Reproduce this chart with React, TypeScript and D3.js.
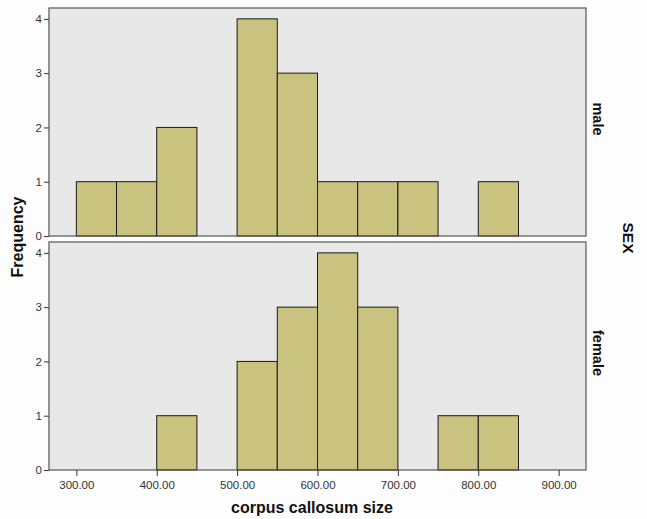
import { useEffect, useRef } from "react";
import * as d3 from "d3";

// bin lower edges (width 50) and counts per panel
const binStarts = [300, 350, 400, 450, 500, 550, 600, 650, 700, 750, 800, 850];
const maleCounts = [1, 1, 2, 0, 4, 3, 1, 1, 1, 0, 1, 0];
const femaleCounts = [0, 0, 1, 0, 2, 3, 4, 3, 0, 1, 1, 0];
const panels = ["male", "female"];
const xTicks = [300, 400, 500, 600, 700, 800, 900];
const yTicks = [0, 1, 2, 3, 4];
const BIN_W = 50;

export default function App() {
  const svgRef = useRef<SVGSVGElement>(null);

  useEffect(() => {
    document.body.style.margin = "0";
    const W = 647, H = 519;
    const svg = d3.select(svgRef.current);
    svg.selectAll("*").remove();
    svg.attr("width", W).attr("height", H);
    svg.append("rect").attr("width", W).attr("height", H).attr("fill", "#fdfdfd");

    const left = 49, right = 586;
    const panelTops = [8, 242];
    const panelH = 228;
    const font = "'Liberation Sans', Arial, sans-serif";

    const x = d3.scaleLinear().domain([266, 934]).range([left, right]);
    const series = [maleCounts, femaleCounts];

    panels.forEach((name, pi) => {
      const top = panelTops[pi];
      const y = d3.scaleLinear().domain([0, 4.2]).range([top + panelH, top]);
      const g = svg.append("g");

      g.append("rect")
        .attr("x", left).attr("y", top)
        .attr("width", right - left).attr("height", panelH)
        .attr("fill", "#e8e8e8");

      const bins = binStarts.map((b, i) => ({ x0: b, n: series[pi][i] })).filter(d => d.n > 0);
      g.selectAll("rect.bar").data(bins).join("rect")
        .attr("class", "bar")
        .attr("x", d => x(d.x0))
        .attr("y", d => y(d.n))
        .attr("width", d => x(d.x0 + BIN_W) - x(d.x0))
        .attr("height", d => y(0) - y(d.n))
        .attr("fill", "#cac37f")
        .attr("stroke", "#1a1a1a")
        .attr("stroke-width", 1);

      g.append("rect")
        .attr("x", left).attr("y", top)
        .attr("width", right - left).attr("height", panelH)
        .attr("fill", "none").attr("stroke", "#555").attr("stroke-width", 1.2);

      const ya = g.append("g")
        .attr("transform", `translate(${left},0)`)
        .call(d3.axisLeft(y).tickValues(yTicks).tickSize(5).tickFormat(d3.format("d")));
      ya.select(".domain").remove();
      ya.selectAll("line").attr("stroke", "#333");
      ya.selectAll("text").attr("font-family", font).attr("font-size", 11.5).attr("fill", "#333").attr("dx", 1);

      g.append("text")
        .attr("transform", `translate(${right + 7},${top + panelH / 2 - 3}) rotate(90)`)
        .attr("text-anchor", "middle")
        .attr("font-family", font).attr("font-size", 14.5).attr("font-weight", "bold")
        .attr("fill", "#111")
        .text(name);
    });

    const xa = svg.append("g")
      .attr("transform", `translate(0,${panelTops[1] + panelH})`)
      .call(d3.axisBottom(x).tickValues(xTicks).tickSize(6).tickFormat(d3.format(".2f")));
    xa.select(".domain").remove();
    xa.selectAll("line").attr("stroke", "#333");
    xa.selectAll("text").attr("font-family", font).attr("font-size", 11.5).attr("fill", "#333").attr("dy", "0.9em");

    svg.append("text")
      .attr("x", 312).attr("y", 513)
      .attr("text-anchor", "middle")
      .attr("font-family", font).attr("font-size", 16).attr("font-weight", "bold")
      .attr("fill", "#111")
      .text("corpus callosum size");

    svg.append("text")
      .attr("transform", `translate(23,237) rotate(-90)`)
      .attr("text-anchor", "middle")
      .attr("font-family", font).attr("font-size", 16).attr("font-weight", "bold")
      .attr("fill", "#111")
      .text("Frequency");

    svg.append("text")
      .attr("transform", `translate(623,238) rotate(90)`)
      .attr("text-anchor", "middle")
      .attr("font-family", font).attr("font-size", 15.5).attr("font-weight", "bold")
      .attr("fill", "#111")
      .text("SEX");
  }, []);

  return <svg ref={svgRef} style={{ display: "block" }} />;
}
